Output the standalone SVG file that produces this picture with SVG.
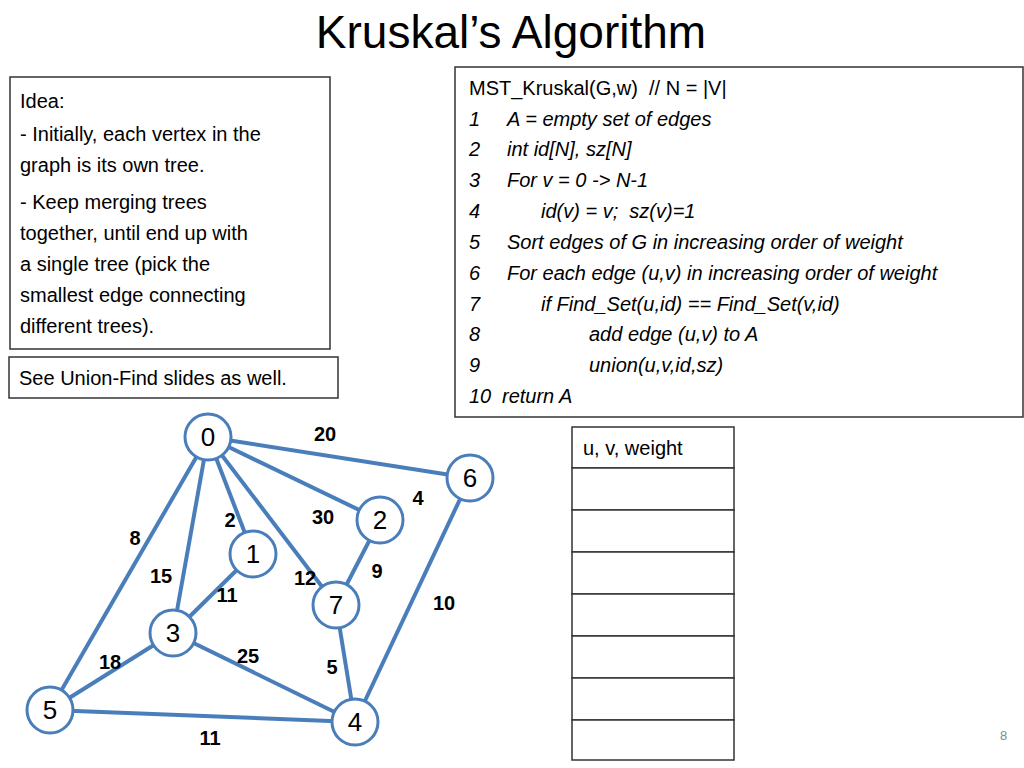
<svg xmlns="http://www.w3.org/2000/svg" width="1024" height="768" viewBox="0 0 1024 768">
<style>
text{font-family:"Liberation Sans",Arial,sans-serif;fill:#000}
.b{fill:#fff;stroke:#333;stroke-width:1.5}
.t{font-size:20px}
.i{font-size:20px;font-style:italic}
.e{stroke:#4a7ebb;stroke-width:4;fill:none}
.n circle{fill:#fff;stroke:#4a7ebb;stroke-width:3}
.n text{font-size:26px;text-anchor:middle}
.w{font-size:20px;font-weight:bold;text-anchor:middle}
</style>
<rect width="1024" height="768" fill="#fff"/>
<text x="511" y="48" font-size="46" text-anchor="middle">Kruskal’s Algorithm</text>
<g id="idea"><rect class="b" x="10" y="77" width="320" height="272"/>
<text class="t" x="20" y="108">Idea:</text>
<text class="t" x="20" y="141">- Initially, each vertex in the</text>
<text class="t" x="20" y="172">graph is its own tree.</text>
<text class="t" x="20" y="209">- Keep merging trees</text>
<text class="t" x="20" y="240">together, until end up with</text>
<text class="t" x="20" y="271">a single tree (pick the</text>
<text class="t" x="20" y="302">smallest edge connecting</text>
<text class="t" x="20" y="333">different trees).</text></g>
<g id="see"><rect class="b" x="9" y="357" width="329" height="41"/>
<text class="t" x="19" y="385">See Union-Find slides as well.</text></g>
<g id="code"><rect class="b" x="455" y="67" width="568" height="350"/>
<text class="t" x="469" y="95" xml:space="preserve">MST_Kruskal(G,w)  // N = |V|</text>
<text class="i" x="469" y="126">1<tspan x="507">A = empty set of edges</tspan></text>
<text class="i" x="469" y="156">2<tspan x="507">int id[N], sz[N]</tspan></text>
<text class="i" x="469" y="187">3<tspan x="507">For v = 0 -&gt; N-1</tspan></text>
<text class="i" x="469" y="218">4<tspan x="541" xml:space="preserve">id(v) = v;  sz(v)=1</tspan></text>
<text class="i" x="469" y="249">5<tspan x="507">Sort edges of G in increasing order of weight</tspan></text>
<text class="i" x="469" y="280">6<tspan x="507">For each edge (u,v) in increasing order of weight</tspan></text>
<text class="i" x="469" y="311">7<tspan x="541">if Find_Set(u,id) == Find_Set(v,id)</tspan></text>
<text class="i" x="469" y="341">8<tspan x="589">add edge (u,v) to A</tspan></text>
<text class="i" x="469" y="372">9<tspan x="589">union(u,v,id,sz)</tspan></text>
<text class="i" x="469" y="403">10<tspan x="502">return A</tspan></text></g>
<g id="table" fill="#fff" stroke="#333" stroke-width="1.5">
<rect x="572" y="427" width="162" height="41"/>
<rect x="572" y="468" width="162" height="42"/>
<rect x="572" y="510" width="162" height="42"/>
<rect x="572" y="552" width="162" height="42"/>
<rect x="572" y="594" width="162" height="42"/>
<rect x="572" y="636" width="162" height="42"/>
<rect x="572" y="678" width="162" height="42"/>
<rect x="572" y="720" width="162" height="40"/>
<text class="t" x="583" y="455" stroke="none">u, v, weight</text></g>
<g id="edges">
<line class="e" x1="208" y1="437" x2="470" y2="478"/>
<line class="e" x1="208" y1="437" x2="380" y2="520"/>
<line class="e" x1="208" y1="437" x2="253" y2="554"/>
<line class="e" x1="208" y1="437" x2="336" y2="605"/>
<line class="e" x1="208" y1="437" x2="173" y2="633"/>
<line class="e" x1="208" y1="437" x2="50" y2="710"/>
<line class="e" x1="253" y1="554" x2="173" y2="633"/>
<line class="e" x1="380" y1="520" x2="336" y2="605"/>
<line class="e" x1="470" y1="478" x2="355" y2="722"/>
<line class="e" x1="336" y1="605" x2="355" y2="722"/>
<line class="e" x1="173" y1="633" x2="355" y2="722"/>
<line class="e" x1="173" y1="633" x2="50" y2="710"/>
<line class="e" x1="50" y1="710" x2="355" y2="722"/>
<text class="w" x="325" y="441">20</text>
<text class="w" x="418" y="505">4</text>
<text class="w" x="323" y="524">30</text>
<text class="w" x="230" y="527">2</text>
<text class="w" x="135" y="545">8</text>
<text class="w" x="377" y="578">9</text>
<text class="w" x="161" y="583">15</text>
<text class="w" x="305" y="585">12</text>
<text class="w" x="227" y="602">11</text>
<text class="w" x="444" y="610">10</text>
<text class="w" x="110" y="669">18</text>
<text class="w" x="248" y="663">25</text>
<text class="w" x="332" y="674">5</text>
<text class="w" x="210" y="745">11</text>
</g>
<g id="n0" class="n"><circle cx="208" cy="437" r="23"/><text x="208" y="446">0</text></g>
<g id="n6" class="n"><circle cx="470" cy="478" r="23"/><text x="470" y="487">6</text></g>
<g id="n2" class="n"><circle cx="380" cy="520" r="23"/><text x="380" y="529">2</text></g>
<g id="n1" class="n"><circle cx="253" cy="554" r="23"/><text x="253" y="563">1</text></g>
<g id="n7" class="n"><circle cx="336" cy="605" r="23"/><text x="336" y="614">7</text></g>
<g id="n3" class="n"><circle cx="173" cy="633" r="23"/><text x="173" y="642">3</text></g>
<g id="n5" class="n"><circle cx="50" cy="710" r="23"/><text x="50" y="719">5</text></g>
<g id="n4" class="n"><circle cx="355" cy="722" r="23"/><text x="355" y="731">4</text></g>
<text x="1000" y="740" font-size="13" style="fill:#888">8</text>
</svg>
